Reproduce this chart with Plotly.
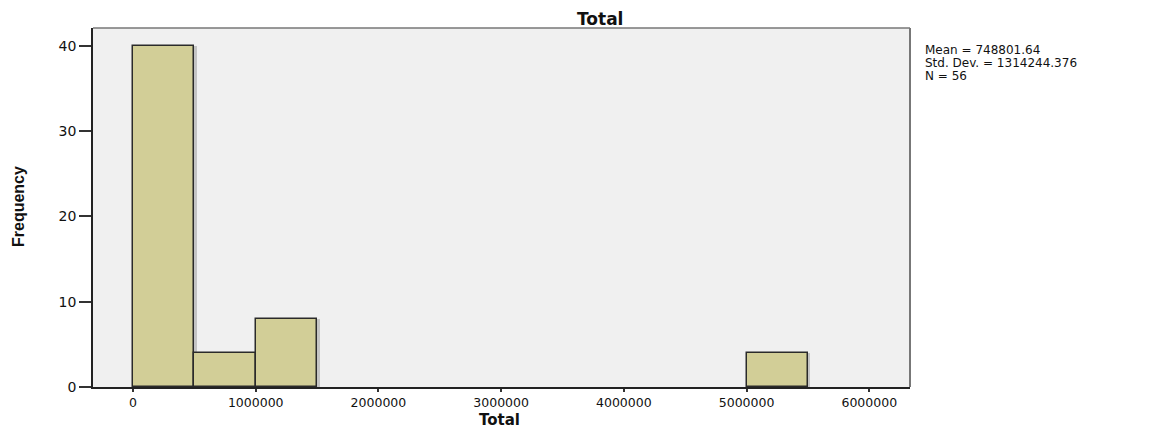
import plotly.graph_objects as go

bin_starts = [0, 500000, 1000000, 5000000]
counts = [40, 4, 8, 4]
bin_width = 500000
x_ticks = [0, 1000000, 2000000, 3000000, 4000000, 5000000, 6000000]
y_ticks = [0, 10, 20, 30, 40]
stats_lines = ["Mean = 748801.64", "Std. Dev. = 1314244.376", "N = 56"]

WIDE = "DejaVu Sans, Verdana, sans-serif"
NARROW = "Liberation Sans Narrow, Liberation Sans, Arial, sans-serif"

# page body has an 8px margin: figure is drawn 8px in from the window edge
W, H = 1159, 421
L, T = 85, 20
PW, PH = 817, 359
R, B = W - L - PW, H - T - PH

def px(x):
    return (x - L) / PW

def py(y):
    return 1 - (y - T) / PH

fig = go.Figure()
fig.add_trace(go.Bar(
    x=bin_starts, y=counts, width=[bin_width] * len(counts), offset=20000,
    marker=dict(color="#C4C4C4", line=dict(width=0)), hoverinfo="skip",
))
fig.add_trace(go.Bar(
    x=bin_starts, y=counts, width=[bin_width] * len(counts), offset=0,
    marker=dict(color="#D2CE97", line=dict(color="#2a2a2a", width=1.5)),
    hoverinfo="x+y",
))

fig.update_layout(
    width=W, height=H,
    margin=dict(l=L, r=R, t=T, b=B, autoexpand=False),
    paper_bgcolor="white", plot_bgcolor="#F0F0F0",
    showlegend=False, bargap=0, barmode="overlay",
    font=dict(family=WIDE, size=13, color="#111"),
    xaxis=dict(
        range=[-326000, 6332000], tickvals=x_ticks, ticktext=[str(v) for v in x_ticks],
        showgrid=False, zeroline=False, ticks="outside", ticklen=3, tickwidth=2,
        tickcolor="#333", showline=True, linecolor="#222", linewidth=1.5,
        tickfont=dict(size=12.5, family=WIDE), automargin=False,
    ),
    yaxis=dict(
        range=[0, 42.1], tickvals=y_ticks, showgrid=False, zeroline=False,
        ticks="outside", ticklen=12, tickwidth=2, tickcolor="#333",
        showline=True, linecolor="#222", linewidth=1.5,
        tickfont=dict(size=14, family=WIDE), automargin=False,
    ),
)

# gray frame top and right
fig.add_shape(type="line", xref="paper", yref="paper", x0=0, x1=1, y0=1, y1=1,
              line=dict(color="#777", width=1.5))
fig.add_shape(type="line", xref="paper", yref="paper", x0=1, x1=1, y0=0, y1=1,
              line=dict(color="#777", width=2))

# main title
fig.add_annotation(xref="paper", yref="paper", x=px(592), y=py(0), xanchor="center",
                   yanchor="top", text="<b>Total</b>", showarrow=False, borderpad=0,
                   font=dict(size=17, family=WIDE, color="#111"))
# x axis title
fig.add_annotation(xref="paper", yref="paper", x=px(491), y=py(H + 1), xanchor="center",
                   yanchor="bottom", text="<b>Total</b>", showarrow=False, borderpad=0,
                   font=dict(size=15, family=WIDE, color="#111"))
# y axis title
fig.add_annotation(xref="paper", yref="paper", x=px(10), y=py(199), xanchor="center",
                   yanchor="middle", text="<b>Frequency</b>", showarrow=False,
                   textangle=-90, font=dict(size=16, family=NARROW, color="#111"))
# statistics box
for i, line in enumerate(stats_lines):
    fig.add_annotation(xref="paper", yref="paper", x=px(916), y=py(42 + i * 13),
                       xanchor="left", yanchor="middle", text=line, showarrow=False,
                       align="left", borderpad=0,
                       font=dict(size=12, color="#111", family=WIDE))

fig.write_html("out.html")
